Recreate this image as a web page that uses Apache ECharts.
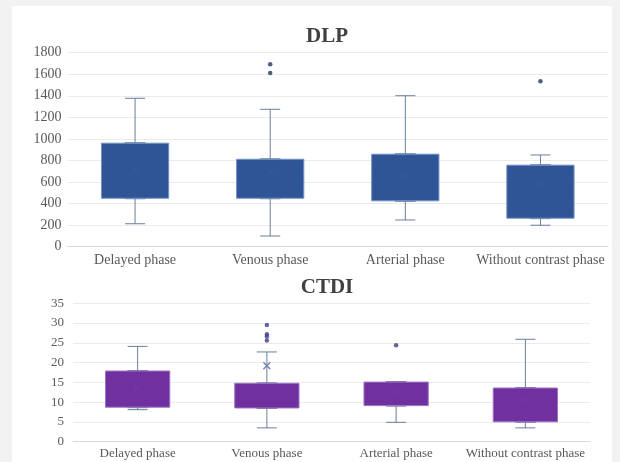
<!DOCTYPE html>
<html>
<head>
<meta charset="utf-8">
<script src="https://cdn.jsdelivr.net/npm/echarts@6/dist/echarts.min.js"></script>
<style>
  html, body { margin: 0; padding: 0; background: #f2f2f2; }
  #wrap { position: relative; width: 620px; height: 462px; overflow: hidden; }
  #panel { position: absolute; left: 12px; top: 6px; width: 600px; height: 456px; background: #ffffff; }
  #chart { position: absolute; left: 0; top: 0; width: 620px; height: 462px; }
</style>
</head>
<body>
<div id="wrap"><div id="panel"></div><div id="chart"></div></div>
<script>
// ---- data ----
const categories = ['Delayed phase', 'Venous phase', 'Arterial phase', 'Without contrast phase'];

const dlpMin    = [213, 99, 248, 199];
const dlpQ1     = [445, 445, 421, 260];
const dlpMedian = [620, 600, 620, 470];
const dlpQ3     = [965, 816, 863, 761];
const dlpMax    = [1377, 1275, 1401, 851];
const dlpMean   = [712, 700, 647, 576];
const dlpOutlierCat = [1, 1, 3];
const dlpOutlierVal = [1692, 1612, 1535];

const ctdiMin    = [8.1, 3.5, 4.9, 3.5];
const ctdiQ1     = [8.6, 8.4, 9.0, 4.9];
const ctdiMedian = [13.5, 11.5, 11.1, 9.3];
const ctdiQ3     = [18.0, 14.9, 15.2, 13.7];
const ctdiMax    = [24.1, 22.7, 15.2, 25.9];
const ctdiMean   = [13.7, 19.2, 12.4, 10.5];
const ctdiOutlierCat = [1, 1, 1, 1, 2];
const ctdiOutlierVal = [29.5, 27.2, 26.6, 25.6, 24.4];

const dlpTicks = { min: 0, max: 1800, interval: 200 };
const ctdiTicks = { min: 0, max: 35, interval: 5 };

// ---- chart ----
const FONT = '"Liberation Serif", "Times New Roman", serif';
const whisker = '#687f9c';
const xMark = 'path://M0,0L10,10M10,0L0,10';

function boxData(mn, q1, md, q3, mx) {
  return categories.map((_, i) => [mn[i], q1[i], md[i], q3[i], mx[i]]);
}

function xAxisCfg(gi, size, margin) {
  return {
    type: 'category', gridIndex: gi, data: categories, boundaryGap: true,
    axisTick: { show: false },
    axisLine: { lineStyle: { color: '#d9d9d9' } },
    axisLabel: { color: '#595959', fontFamily: FONT, fontSize: size, margin: margin, interval: 0 },
    splitLine: { show: false }
  };
}
function yAxisCfg(gi, t, size, margin) {
  return {
    type: 'value', gridIndex: gi, min: t.min, max: t.max, interval: t.interval,
    axisLine: { show: false }, axisTick: { show: false },
    axisLabel: { color: '#595959', fontFamily: FONT, fontSize: size, margin: margin,
      formatter: function (v) { return String(v); } },
    splitLine: { lineStyle: { color: '#ebebeb', width: 1 } }
  };
}

function seriesFor(gi, stackName, mn, q1, md, q3, mx, mean, oCat, oVal, fill, border, dotColor, meanColor) {
  return [
    {
      type: 'boxplot', xAxisIndex: gi, yAxisIndex: gi, z: 1,
      boxWidth: [20, 20],
      data: boxData(mn, q1, md, q3, mx),
      itemStyle: { color: 'transparent', borderColor: whisker, borderWidth: 1 },
      emphasis: { disabled: true }, silent: true
    },
    {
      type: 'bar', xAxisIndex: gi, yAxisIndex: gi, stack: stackName, z: 2,
      barWidth: '50.5%', silent: true,
      data: q1.slice(),
      itemStyle: { color: 'transparent' }
    },
    {
      type: 'bar', xAxisIndex: gi, yAxisIndex: gi, stack: stackName, z: 2,
      barWidth: '50.5%', silent: true,
      data: q3.map((v, i) => +(v - q1[i]).toFixed(3)),
      itemStyle: { color: fill, borderColor: border, borderWidth: 1 }
    },
    {
      type: 'scatter', xAxisIndex: gi, yAxisIndex: gi, z: 3,
      symbol: 'circle', symbolSize: 4.5, silent: true,
      data: oCat.map((c, i) => [c, oVal[i]]),
      itemStyle: { color: dotColor }
    },
    {
      type: 'scatter', xAxisIndex: gi, yAxisIndex: gi, z: 3,
      symbol: xMark, symbolSize: 7, silent: true,
      data: mean.map((v, i) => ({
        value: [i, v],
        itemStyle: { opacity: v > q3[i] ? 1 : 0.12 }
      })),
      itemStyle: { color: 'transparent', borderColor: meanColor, borderWidth: 1.2 }
    }
  ];
}

const chart = echarts.init(document.getElementById('chart'), null, { renderer: 'canvas' });
chart.setOption({
  backgroundColor: 'transparent',
  animation: false,
  title: [
    { text: 'DLP', left: 322, top: 21, textAlign: 'center',
      textStyle: { fontFamily: FONT, fontSize: 21, fontWeight: 'bold', color: '#404040' } },
    { text: 'CTDI', left: 322, top: 272, textAlign: 'center',
      textStyle: { fontFamily: FONT, fontSize: 21, fontWeight: 'bold', color: '#404040' } }
  ],
  grid: [
    { left: 67.5, right: 12, top: 52.7, bottom: 215.3, containLabel: false },
    { left: 73, right: 30, top: 303.3, bottom: 20.3, containLabel: false }
  ],
  xAxis: [xAxisCfg(0, 14, 7), xAxisCfg(1, 13, 5)],
  yAxis: [yAxisCfg(0, dlpTicks, 14, 6), yAxisCfg(1, ctdiTicks, 13, 9)],
  series: [].concat(
    seriesFor(0, 'dlp', dlpMin, dlpQ1, dlpMedian, dlpQ3, dlpMax, dlpMean,
      dlpOutlierCat, dlpOutlierVal, '#2f5597', '#7392c6', '#1f3864', '#5b7cc0'),
    seriesFor(1, 'ctdi', ctdiMin, ctdiQ1, ctdiMedian, ctdiQ3, ctdiMax, ctdiMean,
      ctdiOutlierCat, ctdiOutlierVal, '#7030a0', '#9d74c4', '#3a3f8f', '#6b7fb5')
  )
});
</script>
</body>
</html>
